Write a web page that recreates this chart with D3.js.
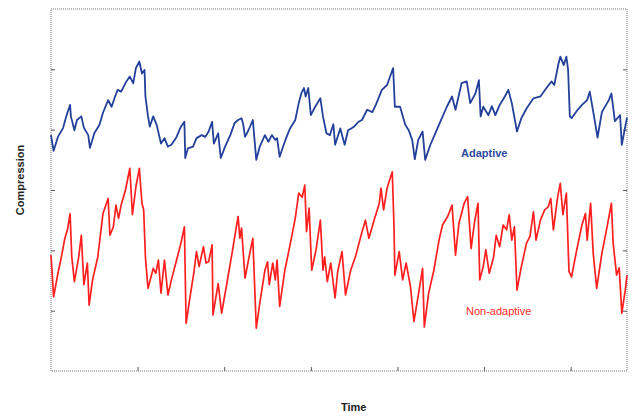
<!DOCTYPE html>
<html>
<head>
<meta charset="utf-8">
<script src="https://cdn.jsdelivr.net/npm/d3@7"></script>
<style>
  body { margin: 0; background: #fff; }
  .lbl { font-family: "Liberation Sans", Arial, sans-serif; }
</style>
</head>
<body>
<div id="chart"></div>
<script>
// time samples (arbitrary units, axis runs 0..665) and compression values
var adaptiveTime = [0,3,8,14,18,22,23,27,30,35,38,43,45,50,56,60,66,70,74,77,81,87,91,95,98,102,105,108,109,112,114,118,122,127,131,135,139,145,150,154,155,158,164,168,174,178,182,186,188,193,196,201,207,212,216,220,222,224,228,233,237,241,247,251,255,259,261,264,268,272,276,282,286,289,292,294,297,300,305,311,314,318,322,326,328,334,339,343,349,355,359,365,371,375,382,388,391,395,397,403,409,413,417,420,424,429,432,438,447,457,463,467,474,480,484,490,494,496,499,505,509,513,518,524,528,532,538,543,549,557,565,572,578,581,586,588,592,595,597,599,601,607,613,619,622,626,631,636,644,647,651,657,659,663,665];
var adaptiveValue = [3.91,3.65,3.88,4.03,4.24,4.41,4.22,3.99,4.16,4.22,4.03,3.91,3.70,3.94,4.08,4.28,4.49,4.38,4.55,4.66,4.63,4.80,4.88,4.77,5.02,5.13,4.93,4.99,4.55,4.22,4.05,4.22,4.08,3.77,3.86,3.72,3.75,3.88,4.05,4.13,3.53,3.69,3.72,3.86,3.91,3.88,3.97,4.13,3.77,3.94,3.53,3.72,3.91,4.11,4.16,4.19,4.08,3.88,3.99,4.16,3.50,3.72,3.91,3.80,3.91,3.83,3.86,3.55,3.72,3.88,4.02,4.16,4.44,4.60,4.69,4.55,4.69,4.24,4.38,4.52,4.22,3.94,3.91,4.09,3.75,4.02,3.75,3.99,4.04,4.13,4.16,4.33,4.29,4.41,4.66,4.74,4.86,5.02,4.38,4.38,4.08,3.99,3.83,3.51,3.83,3.97,3.50,3.75,4.05,4.38,4.55,4.33,4.77,4.80,4.44,4.60,4.82,4.22,4.38,4.24,4.39,4.24,4.41,4.55,4.66,4.44,3.97,4.19,4.35,4.52,4.55,4.69,4.80,4.74,5.10,5.21,5.07,5.21,4.99,4.22,4.19,4.31,4.41,4.49,4.63,4.30,3.87,4.29,4.49,4.60,4.14,4.24,3.75,4.05,4.20];

var nonAdaptiveTime = [0,3,8,12,16,19,22,24,27,32,35,38,42,44,48,54,60,66,68,72,75,78,81,86,91,94,98,102,105,107,109,112,118,121,124,127,131,135,139,145,150,154,156,160,165,168,171,176,179,182,186,187,193,197,203,209,214,216,218,220,224,228,233,237,241,247,250,252,256,259,261,264,270,276,282,286,290,293,295,298,301,306,311,314,316,319,323,328,331,336,340,346,352,358,363,367,373,379,381,384,388,391,394,396,397,402,406,410,415,419,425,429,431,436,442,448,452,458,463,467,471,477,481,485,489,493,495,499,502,506,511,514,518,522,526,529,532,535,538,543,549,553,557,560,565,570,574,577,580,585,588,591,595,598,601,607,613,617,619,623,626,630,636,642,647,649,653,656,659,663,665];
var nonAdaptiveValue = [1.92,1.23,1.62,1.89,2.20,2.34,2.61,1.89,1.48,1.89,2.25,1.43,1.79,1.09,1.51,1.89,2.61,2.86,2.25,2.39,2.75,2.53,2.75,3.00,3.36,2.59,3.05,3.36,2.78,2.67,1.89,1.37,1.70,1.62,1.84,1.29,1.84,1.26,1.51,1.84,2.12,2.39,0.79,1.18,1.64,1.98,1.73,2.06,1.79,1.81,2.09,0.93,1.45,0.96,1.45,1.95,2.39,2.56,2.20,2.37,1.54,1.84,2.20,0.71,1.12,1.67,1.81,1.43,1.79,1.51,1.84,1.07,1.67,2.09,2.53,2.95,2.88,3.08,2.31,2.70,1.67,2.01,2.50,1.67,1.89,1.48,1.79,1.21,1.65,1.98,1.26,1.67,1.92,2.25,2.50,2.20,2.50,2.78,3.03,2.67,3.03,3.17,3.30,2.39,1.59,1.98,1.51,1.79,1.40,0.82,1.34,1.70,0.73,1.29,1.67,2.17,2.42,2.56,2.75,1.92,2.45,2.78,2.89,2.03,2.47,2.78,1.51,1.73,2.01,1.62,1.89,2.25,2.06,2.42,2.34,2.59,2.17,2.39,1.34,1.73,2.12,2.23,2.64,2.17,2.50,2.67,2.72,2.86,2.34,2.89,3.11,2.59,2.95,1.65,1.56,2.01,2.42,2.61,2.17,2.78,1.95,1.37,1.95,2.39,2.78,2.12,1.59,1.71,0.96,1.34,1.59];

var timeTicks = [100, 200, 300, 400, 500, 600];
var valueTicks = [1, 2, 3, 4, 5];

var W = 635, H = 417;
var margin = {top: 9, right: 8, bottom: 46, left: 51};
var width = W - margin.left - margin.right;
var height = H - margin.top - margin.bottom;

var svg = d3.select("#chart").append("svg")
    .attr("width", W)
    .attr("height", H);

var g = svg.append("g")
    .attr("transform", "translate(" + margin.left + "," + margin.top + ")");

var xScale = d3.scaleLinear().domain([0, 665]).range([0, width]);
var yScale = d3.scaleLinear().domain([0, 6]).range([height, 0]);

// frame, dotted grey
g.append("rect")
    .attr("x", 0).attr("y", 0)
    .attr("width", width).attr("height", height)
    .attr("fill", "none")
    .attr("stroke", "#777")
    .attr("stroke-width", 1)
    .attr("stroke-dasharray", "1,1");

// inward ticks, no labels
var xAxis = d3.axisBottom(xScale).tickValues(timeTicks).tickSize(-4).tickFormat("");
var yAxisL = d3.axisLeft(yScale).tickValues(valueTicks).tickSize(-4).tickFormat("");
var yAxisR = d3.axisRight(yScale).tickValues(valueTicks).tickSize(-4).tickFormat("");

g.append("g").attr("transform", "translate(0," + height + ")").call(xAxis);
g.append("g").call(yAxisL);
g.append("g").attr("transform", "translate(" + width + ",0)").call(yAxisR);
g.selectAll(".domain").remove();
g.selectAll(".tick line").attr("stroke", "#555");

var line = d3.line()
    .x(d => xScale(d[0]))
    .y(d => yScale(d[1]));

var adaptive = adaptiveTime.map((t, i) => [t, adaptiveValue[i]]);
var nonAdaptive = nonAdaptiveTime.map((t, i) => [t, nonAdaptiveValue[i]]);

g.append("path")
    .datum(adaptive)
    .attr("d", line)
    .attr("fill", "none")
    .attr("stroke", "#23409a")
    .attr("stroke-width", 1.8)
    .attr("stroke-linejoin", "round");

g.append("path")
    .datum(nonAdaptive)
    .attr("d", line)
    .attr("fill", "none")
    .attr("stroke", "#ff1f1f")
    .attr("stroke-width", 1.7)
    .attr("stroke-linejoin", "round");

// series labels
svg.append("text")
    .attr("class", "lbl")
    .attr("x", 461).attr("y", 157)
    .attr("font-size", "11px")
    .attr("font-weight", "bold")
    .attr("fill", "#2a4aa0")
    .text("Adaptive");

svg.append("text")
    .attr("class", "lbl")
    .attr("x", 466).attr("y", 315)
    .attr("font-size", "11px")
    .attr("fill", "#ff2a2a")
    .text("Non-adaptive");

// axis titles
svg.append("text")
    .attr("class", "lbl")
    .attr("transform", "translate(24,180) rotate(-90)")
    .attr("text-anchor", "middle")
    .attr("font-size", "11px")
    .attr("font-weight", "bold")
    .attr("fill", "#222")
    .text("Compression");

svg.append("text")
    .attr("class", "lbl")
    .attr("x", 341).attr("y", 411)
    .attr("font-size", "11px")
    .attr("font-weight", "bold")
    .attr("fill", "#222")
    .text("Time");
</script>
</body>
</html>
